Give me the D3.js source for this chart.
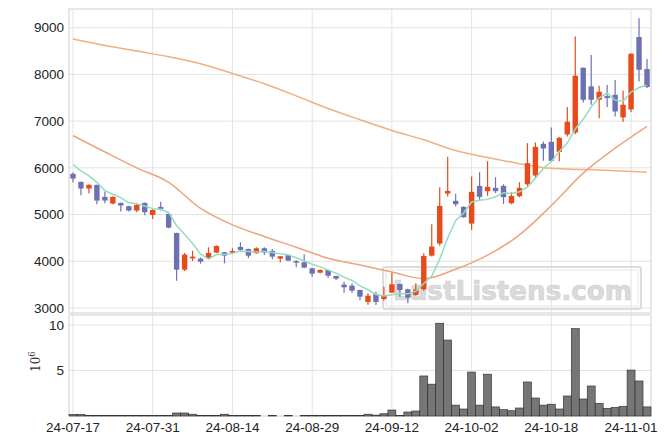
<!DOCTYPE html>
<html><head><meta charset="utf-8">
<script src="https://cdn.jsdelivr.net/npm/d3@7"></script>
<style>body{margin:0;background:#fff}svg{display:block}text{font-family:"Liberation Sans",Arial,sans-serif}</style>
</head><body><svg id="c" width="670" height="444"></svg>
<script>
const dates = ["24-07-17","24-07-18","24-07-19","24-07-22","24-07-23","24-07-24","24-07-25","24-07-26","24-07-29","24-07-30",
"24-07-31","24-08-01","24-08-02","24-08-05","24-08-06","24-08-07","24-08-08","24-08-09","24-08-12","24-08-13",
"24-08-14","24-08-16","24-08-19","24-08-20","24-08-21","24-08-22","24-08-23","24-08-26","24-08-27","24-08-28",
"24-08-29","24-08-30","24-09-02","24-09-03","24-09-04","24-09-05","24-09-06","24-09-09","24-09-10","24-09-11",
"24-09-12","24-09-13","24-09-19","24-09-20","24-09-23","24-09-24","24-09-25","24-09-26","24-09-27","24-09-30",
"24-10-02","24-10-04","24-10-07","24-10-08","24-10-10","24-10-11","24-10-14","24-10-15","24-10-16","24-10-17",
"24-10-18","24-10-21","24-10-22","24-10-23","24-10-24","24-10-25","24-10-28","24-10-29","24-10-30","24-10-31",
"24-11-01","24-11-04","24-11-05"];
const openP = [5871,5700,5557,5636,5379,5236,5250,5179,5086,5250,4993,5164,5014,4607,3821,4064,4057,4072,4186,4193,
4186,4307,4264,4172,4279,4222,4057,4136,4007,3979,3850,3757,3814,3686,3500,3478,3386,3129,3300,3193,
3328,3514,3400,3279,3400,4121,4379,5450,5293,5164,4807,5614,5500,5571,5614,5243,5393,5650,5836,6514,
6557,6343,6714,6757,8143,7743,7457,7536,7564,7079,7250,8800,8114];
const highP = [5900,5710,5650,5640,5492,5390,5260,5190,5244,5260,5110,5272,5020,4610,4179,4228,4079,4300,4340,4200,
4279,4408,4270,4300,4300,4264,4115,4140,4020,4150,3860,3830,3820,3690,3564,3529,3390,3314,3350,3457,
3757,3520,3410,3529,4172,4793,5586,6236,5443,5180,5814,5907,6143,5800,5650,5479,5693,6529,6543,6564,
6864,6660,7300,8814,8150,8414,7757,7771,7879,7657,8450,9200,8329];
const lowP = [5685,5415,5458,5222,5244,5220,5064,5064,5050,4987,4907,5086,4707,3585,3793,4007,3950,4060,4180,3957,
4170,4207,4064,4160,4136,4043,3979,4000,3872,3850,3671,3740,3650,3600,3328,3328,3165,3071,3064,3157,
3320,3243,3100,3260,3371,4100,4330,5386,5171,4930,4671,5314,5400,5457,5229,5220,5370,5600,5771,6150,
6130,6143,6671,6720,7400,7350,7064,7300,7100,6986,7193,7850,7707];
const closeP = [5771,5557,5636,5300,5300,5379,5193,5086,5207,5050,5100,5121,4721,3821,4143,4100,3993,4179,4329,4121,
4222,4243,4121,4279,4186,4100,4107,4014,3971,3864,3735,3814,3692,3628,3443,3371,3243,3264,3129,3271,
3507,3386,3221,3400,4114,4314,5186,5507,5222,4943,5486,5379,5593,5500,5372,5400,5571,6100,6450,6414,
6150,6643,6986,7971,7457,7457,7629,7493,7207,7350,8443,8100,7729];
const volumeM = [0.17,0.17,0.04,0.04,0.04,0.04,0.04,0.04,0.04,0.04,0.04,0.04,0.04,0.33,0.33,0.2,0.04,0.04,0.04,0.2,
0.04,0.04,0.04,0.04,0,0.04,0,0.04,0,0.04,0.04,0.04,0.04,0.04,0.08,0.04,0.04,0.2,0.1,0.25,
0.66,0.05,0.44,0.55,4.4,3.5,10.2,8.35,1.2,0.77,4.83,1.2,4.6,1.0,0.7,0.58,0.88,3.74,1.98,1.2,
1.3,0.77,2.2,9.6,1.87,3.3,1.4,0.85,0.95,1.07,5.05,3.85,1.0];
const ma5 = [6071,5936,5829,5690,5513,5434,5362,5252,5233,5183,5127,5113,5040,4763,4581,4381,4156,4047,4149,4144,
4169,4219,4207,4197,4210,4186,4159,4137,4076,4011,3938,3880,3815,3747,3662,3590,3475,3390,3290,3256,
3283,3311,3303,3357,3526,3686,4046,4503,4867,5033,5269,5307,5325,5380,5466,5449,5487,5589,5779,5987,
6137,6351,6529,6833,7041,7303,7500,7601,7449,7427,7624,7719,7766];
const maDates = ["24-07-17","24-07-23","24-07-29","24-08-02","24-08-08","24-08-14","24-08-21","24-08-27","24-09-02","24-09-06",
"24-09-12","24-09-23","24-09-27","24-10-07","24-10-14","24-10-18","24-10-24","24-10-30","24-11-05"];
const ma20 = [6690,6340,6000,5690,5130,4780,4530,4300,4064,3920,3770,3630,3830,4130,4564,5193,5886,6421,6890];
const ma120 = [8757,8620,8500,8380,8230,8020,7800,7540,7270,7030,6800,6600,6370,6220,6090,5990,5965,5940,5905];
const priceTicks = [3000,4000,5000,6000,7000,8000,9000];
const volTicks = [5,10];
const dateTicks = ["24-07-17","24-07-31","24-08-14","24-08-29","24-09-12","24-10-02","24-10-18","24-11-01"];

const svg = d3.select("#c");
const L = 69, R = 651, PT = 9, PB = 313, VT = 315, VB = 416;
const x = d3.scalePoint().domain(dates).range([L, R]).padding(0.5);
const y = d3.scaleLinear().domain([2893, 9400]).range([PB, PT]);
const yv = d3.scaleLinear().domain([0, 11.1]).range([VB, VT]);
const UP = "#e84a1a", DOWN = "#6d71b3", GRID = "#e3e3e3";

// grids
const g = svg.append("g");
g.selectAll(".hg").data(priceTicks).join("line").attr("x1", L).attr("x2", R)
  .attr("y1", d => y(d)).attr("y2", d => y(d)).attr("stroke", GRID);
g.selectAll(".vg").data(dateTicks).join("line").attr("x1", d => x(d)).attr("x2", d => x(d))
  .attr("y1", PT).attr("y2", PB).attr("stroke", GRID);
g.selectAll(".vg2").data(dateTicks).join("line").attr("x1", d => x(d)).attr("x2", d => x(d))
  .attr("y1", VT).attr("y2", VB).attr("stroke", GRID);
g.selectAll(".hv").data(volTicks).join("line").attr("x1", L).attr("x2", R)
  .attr("y1", d => yv(d)).attr("y2", d => yv(d)).attr("stroke", GRID);

// watermark
const wm = svg.append("g");
wm.append("rect").attr("x", 383).attr("y", 267).attr("width", 258).attr("height", 42).attr("rx", 2)
  .attr("fill", "none").attr("stroke", "#dcdcdc").attr("stroke-width", 2);
wm.append("rect").attr("x", 386).attr("y", 270).attr("width", 252).attr("height", 36)
  .attr("fill", "none").attr("stroke", "#e6e6e6").attr("stroke-width", 1);
wm.append("text").attr("x", 393).attr("y", 300).text("LastListens.com")
  .style("font-family", "'DejaVu Sans',sans-serif").style("font-weight", "bold").style("font-size", "26px")
  .attr("textLength", 239).attr("lengthAdjust", "spacingAndGlyphs")
  .attr("fill", "#dadada").attr("stroke", "#cfcfcf").attr("stroke-width", 0.6);

// frames
svg.append("rect").attr("x", L).attr("y", PT).attr("width", R - L).attr("height", PB - PT)
  .attr("fill", "none").attr("stroke", "#d0d0d0");
svg.append("rect").attr("x", L).attr("y", VT).attr("width", R - L).attr("height", VB - VT)
  .attr("fill", "none").attr("stroke", "#d0d0d0");

// MA lines
const lineIdx = d3.line().x((d, i) => x(dates[i])).y(d => y(d));
const lineS = d3.line().x((d, i) => x(maDates[i])).y(d => y(d)).curve(d3.curveMonotoneX);
svg.append("path").attr("d", lineS(ma120)).attr("fill", "none").attr("stroke", "#efb083").attr("stroke-width", 1.5);
svg.append("path").attr("d", lineS(ma20)).attr("fill", "none").attr("stroke", "#eea381").attr("stroke-width", 1.5);

// candles
const cg = svg.append("g");
dates.forEach((d, i) => {
  const o = openP[i], c = closeP[i], col = c >= o ? UP : DOWN, cx = x(d);
  cg.append("line").attr("x1", cx).attr("x2", cx).attr("y1", y(highP[i])).attr("y2", y(lowP[i]))
    .attr("stroke", col).attr("stroke-width", 1.2);
  const top = y(Math.max(o, c)), bot = y(Math.min(o, c));
  cg.append("rect").attr("x", cx - 2.7).attr("width", 5.4).attr("y", top).attr("height", Math.max(1.2, bot - top))
    .attr("fill", col);
});
svg.append("path").attr("d", lineIdx(ma5)).attr("fill", "none").attr("stroke", "#93dcc0").attr("stroke-width", 1.5);

// volume
svg.append("g").selectAll("rect").data(volumeM).join("rect")
  .attr("x", (v, i) => x(dates[i]) - x.step() / 2).attr("width", x.step())
  .attr("y", v => yv(v)).attr("height", v => VB - yv(v))
  .attr("fill", "#6a6a6a").attr("fill-opacity", 0.92).attr("stroke", "#2a2a2a").attr("stroke-width", v => v > 0 ? 0.6 : 0);

// axes labels
svg.append("g").selectAll("text").data(priceTicks).join("text")
  .attr("x", 64).attr("y", d => y(d)).attr("dy", "0.35em").attr("text-anchor", "end")
  .style("font-size", "13.5px").attr("fill", "#222").text(d => d);
svg.append("g").selectAll("text").data(volTicks).join("text")
  .attr("x", 64).attr("y", d => yv(d)).attr("dy", "0.35em").attr("text-anchor", "end")
  .style("font-size", "13.5px").attr("fill", "#222").text(d => d);
svg.append("g").selectAll("text").data(dateTicks).join("text")
  .attr("x", d => x(d)).attr("y", 432).attr("text-anchor", "middle")
  .style("font-size", "13.5px").attr("fill", "#222").text(d => d);
const ex = svg.append("text").attr("transform", "translate(40,372) rotate(-90)").style("font-size", "12px").attr("fill", "#333")
  .style("font-family", "'DejaVu Serif',serif");
ex.append("tspan").text("10");
ex.append("tspan").attr("dy", -5).style("font-size", "8.5px").text("6");
</script></body></html>
